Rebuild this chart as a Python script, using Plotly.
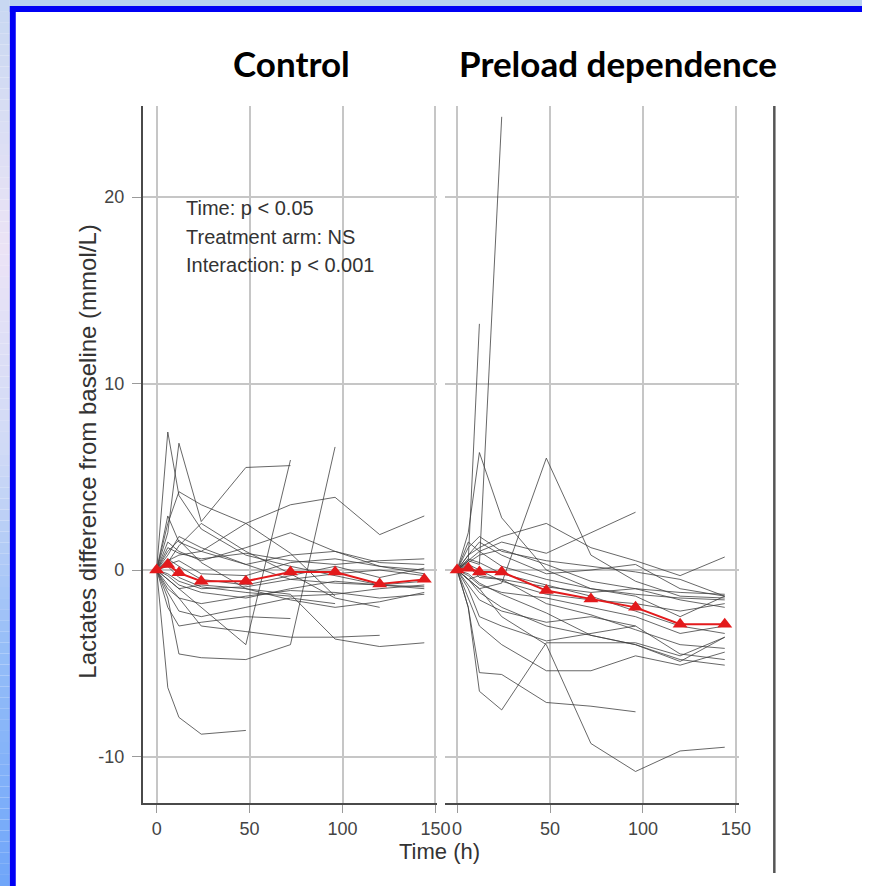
import plotly.graph_objects as go

W, H = 875, 886

# Sampling times (hours) shared by every patient trajectory
times = [0, 6, 12, 24, 48, 72, 96, 120, 144]

# Individual patient lactate differences from baseline, control arm (None = no sample)
control_lines = [
    [0, 7.4, 4.0, 2.2, 0.8, 0.2, -0.3, -0.8, -0.9],
    [0, 2.0, 6.8, 2.6, 5.5, 5.6, None, None, None],
    [0, 2.5, 4.2, 3.5, 2.5, 0.9, -1.4, None, None],
    [0, 2.9, 1.5, 1.0, 0.3, -0.5, -0.7, -0.8, -0.6],
    [0, 0.5, 0.8, 1.0, 2.5, 3.5, 3.9, 1.9, 2.9],
    [0, -1.5, -4.5, -4.7, -4.8, -4.0, 6.6, None, None],
    [0, -6.3, -7.9, -8.8, -8.6, None, None, None, None],
    [0, -1.0, -1.5, -3.0, -3.3, -3.6, -3.6, -3.5, None],
    [0, -0.5, -1.0, -2.0, -4.0, 5.9, None, None, None],
    [0, 1.5, 1.0, 0.5, 1.2, 2.0, 1.0, 0.2, 0.0],
    [0, 0.8, 1.8, 1.2, 0.3, 0.8, 1.0, 0.4, 0.3],
    [0, -0.3, -0.8, -1.2, -1.5, -1.0, -0.6, -0.8, -1.0],
    [0, -0.8, -1.5, -1.8, -1.4, -1.1, -1.2, -1.5, -1.3],
    [0, 0.3, 0.5, -0.2, -0.3, 0.4, 0.6, 0.2, -0.2],
    [0, -1.2, -2.2, -2.5, -2.0, -1.5, -1.8, None, None],
    [0, -0.5, -1.0, -0.8, -1.0, -1.3, -3.7, -4.1, -3.9],
    [0, 0.2, -0.4, -0.9, -1.2, -1.4, -1.3, -1.0, -0.8],
    [0, 1.2, 0.9, 0.6, 0.9, 0.5, 0.3, 0.5, 0.6],
    [0, -2.0, -3.0, -2.8, -2.5, -2.6, None, None, None],
    [0, 0.4, 1.3, 2.5, 1.0, -0.2, -1.5, -2.0, None],
    [0, 0.6, 0.2, -0.5, -0.8, -0.3, 0.2, -0.4, 0.1],
    [0, -0.2, -0.6, -1.0, -0.9, -0.5, -0.2, 0.0, -0.3],
    [0, 1.0, 1.6, 0.4, -1.0, -1.6, -2.0, -1.7, -1.2],
]

# Individual patient lactate differences from baseline, preload-dependence arm
preload_lines = [
    [0, 0.5, 0.3, 24.3, None, None, None, None, None],
    [0, 0.5, 13.2, None, None, None, None, None, None],
    [0, 2.0, 6.3, 2.8, 0.0, -1.0, -1.3, -1.5, -1.6],
    [0, -0.5, -1.0, -0.7, 6.0, 0.8, -0.6, -1.4, -1.5],
    [0, 0.5, 1.0, 1.5, 0.9, 2.0, 3.1, None, None],
    [0, 0.8, 1.2, 1.8, 2.5, 1.2, 0.5, -0.3, 0.7],
    [0, -0.5, -1.0, -2.5, -4.0, -9.3, -10.8, -9.7, -9.5],
    [0, -2.0, -5.5, -5.6, -7.1, -7.3, -7.6, None, None],
    [0, -2.0, -6.5, -7.5, -3.9, -3.9, -3.9, -4.6, -3.6],
    [0, -1.5, -3.0, -4.0, -5.4, -5.4, -4.6, -5.1, -4.4],
    [0, -0.5, -1.2, -2.0, -3.0, -3.5, -4.0, -4.9, -3.6],
    [0, 1.5, 1.0, 0.2, -0.5, -1.0, -1.4, -2.5, -1.4],
    [0, 0.6, 0.4, -0.2, -0.8, -1.4, -2.2, -3.0, -3.4],
    [0, -0.3, -0.8, -1.2, -1.5, -2.0, -2.5, -3.4, -3.0],
    [0, 1.2, 1.8, 1.0, 0.5, 0.2, -0.1, -0.5, -1.4],
    [0, 0.3, 0.0, -0.6, -1.3, -1.6, -1.8, -2.2, -1.8],
    [0, -0.8, -1.6, -2.2, -2.8, -2.5, -3.0, -4.5, -4.8],
    [0, 0.8, 1.5, 0.8, -0.2, 0.0, 0.3, -1.0, -1.4],
    [0, -1.0, -2.5, -3.0, -3.8, -3.4, -3.0, None, None],
    [0, 0.2, -0.4, -0.5, -1.8, -2.4, -3.2, -4.0, -4.2],
    [0, -0.5, -0.3, -0.5, -0.9, -1.2, -1.0, -1.2, -1.3],
    [0, 0.4, 0.8, 1.1, 0.3, -0.6, -1.0, -1.6, -2.0],
    [0, -0.2, -0.7, -1.3, -2.3, -3.5, -4.0, -4.8, -5.1],
]

# Group means
control_mean = [0, 0.3, -0.15, -0.6, -0.6, -0.1, -0.1, -0.75, -0.5]
preload_mean = [0, 0.1, -0.1, -0.1, -1.1, -1.55, -2.0, -2.9, -2.9]

panel_titles = ["Control", "Preload dependence"]
stats_lines = ["Time: p < 0.05", "Treatment arm: NS", "Interaction: p < 0.001"]
x_ticks = [0, 50, 100, 150]
y_ticks = [-10, 0, 10, 20]
y_ticktext = ["-10", "0", "10", "20"]
y_title = "Lactates difference from baseline (mmol/L)"
x_title = "Time (h)"


def fx(px):
    return px / W


def fy(py):
    return 1 - py / H


LINE_GREY = "rgba(60,60,60,0.78)"
GRID = "#c6c6c6"
AXIS = "#4a4a4a"
RED = "#e31a1c"
TICK_FONT = dict(family="Liberation Sans, Arial", size=18, color="#444444")

fig = go.Figure()

for xa, ya, lines, mean in (("x", "y", control_lines, control_mean),
                            ("x2", "y2", preload_lines, preload_mean)):
    for vals in lines:
        fig.add_trace(go.Scatter(
            x=times, y=vals, xaxis=xa, yaxis=ya, mode="lines",
            line=dict(color=LINE_GREY, width=1), connectgaps=False,
            hoverinfo="skip", showlegend=False))
    fig.add_trace(go.Scatter(
        x=times, y=mean, xaxis=xa, yaxis=ya, mode="lines+markers",
        line=dict(color=RED, width=2),
        marker=dict(symbol="triangle-up", size=13, color=RED),
        showlegend=False))

xcommon = dict(
    tickmode="array", tickvals=x_ticks, ticks="outside", ticklen=8,
    tickcolor="#9a9a9a", tickwidth=1, tickfont=TICK_FONT,
    showgrid=True, gridcolor=GRID, gridwidth=1.5, zeroline=False,
    showline=True, linecolor=AXIS, linewidth=2,
)
ycommon = dict(
    range=[-12.49, 24.88], tickmode="array", tickvals=y_ticks,
    ticktext=y_ticktext,
    showgrid=True, gridcolor=GRID, gridwidth=1.5, zeroline=False,
)

fig.update_layout(
    width=W, height=H, autosize=False,
    margin=dict(l=0, r=0, t=0, b=0, pad=0),
    paper_bgcolor="white", plot_bgcolor="white",
    xaxis=dict(xcommon, domain=[fx(145), fx(444)], range=[-7.42, 151.05],
               anchor="y"),
    xaxis2=dict(xcommon, domain=[fx(452), fx(750)], range=[-6.36, 151.6],
                anchor="y2"),
    yaxis=dict(ycommon, domain=[fy(803), fy(106)], anchor="x",
               ticks="outside", ticklen=9, tickcolor="#9a9a9a",
               tickfont=TICK_FONT, ticklabelstandoff=4,
               showline=True, linecolor=AXIS, linewidth=2),
    yaxis2=dict(ycommon, domain=[fy(803), fy(106)], anchor="x2",
                matches="y", showticklabels=False, showline=False, ticks=""),
    showlegend=False,
)

# Frame: pale gradient band on the left, pale band on top, blue border lines
shapes = []
stops = [(0, (200, 216, 242)), (250, (236, 228, 246)), (450, (208, 218, 246)),
         (650, (150, 190, 248)), (886, (112, 166, 250))]
n = 80
for i in range(n):
    y0p = H * i / n
    y1p = H * (i + 1) / n
    ym = (y0p + y1p) / 2
    for (a, ca), (b, cb) in zip(stops[:-1], stops[1:]):
        if a <= ym <= b:
            t = (ym - a) / (b - a)
            c = tuple(int(ca[k] + (cb[k] - ca[k]) * t) for k in range(3))
            break
    shapes.append(dict(type="rect", xref="paper", yref="paper",
                       x0=0, x1=fx(10), y0=fy(y1p), y1=fy(y0p),
                       fillcolor="rgb(%d,%d,%d)" % c, line=dict(width=0),
                       layer="above"))
shapes.append(dict(type="rect", xref="paper", yref="paper", x0=fx(10), x1=1,
                   y0=fy(6), y1=1, fillcolor="rgb(184,208,240)",
                   line=dict(width=0), layer="above"))
shapes.append(dict(type="rect", xref="paper", yref="paper", x0=fx(10), x1=1,
                   y0=fy(12), y1=fy(6), fillcolor="rgb(0,0,245)",
                   line=dict(width=0), layer="above"))
shapes.append(dict(type="rect", xref="paper", yref="paper", x0=fx(10), x1=fx(16),
                   y0=0, y1=fy(6), fillcolor="rgb(0,0,245)",
                   line=dict(width=0), layer="above"))
# Dark vertical rule to the right of the panels
shapes.append(dict(type="line", xref="paper", yref="paper",
                   x0=fx(786), x1=fx(786), y0=fy(873), y1=fy(106),
                   line=dict(color="#555555", width=2.5), layer="above"))

annotations = []
for txt, cx in zip(panel_titles, (296, 627)):
    annotations.append(dict(
        text="<b>%s</b>" % txt, xref="paper", yref="paper",
        x=fx(cx), y=fy(63), xanchor="center", yanchor="middle",
        showarrow=False, font=dict(family="Lato, Open Sans", size=35,
                                   color="black")))
for i, txt in enumerate(stats_lines):
    annotations.append(dict(
        text=txt, xref="paper", yref="paper", x=fx(187), y=fy(208 + 28.5 * i),
        xanchor="left", yanchor="middle", showarrow=False,
        font=dict(family="Liberation Sans, Arial", size=20, color="#333333")))
annotations.append(dict(
    text=x_title, xref="paper", yref="paper", x=fx(446), y=fy(851),
    xanchor="center", yanchor="middle", showarrow=False,
    font=dict(family="Liberation Sans, Arial", size=22, color="#333333")))
annotations.append(dict(
    text=y_title, xref="paper", yref="paper", x=fx(89), y=fy(452),
    xanchor="center", yanchor="middle", showarrow=False, textangle=-90,
    font=dict(family="Liberation Sans, Arial", size=24, color="#333333")))

fig.update_layout(shapes=shapes, annotations=annotations)

# Keep the page free of margins and scrollbars so the figure fills the window
page_css = (
    "document.documentElement.style.overflow='hidden';"
    "document.body.style.margin='0';"
    "document.body.style.overflow='hidden';"
)
fig.write_html("out.html", post_script=page_css,
               config={"responsive": False})
